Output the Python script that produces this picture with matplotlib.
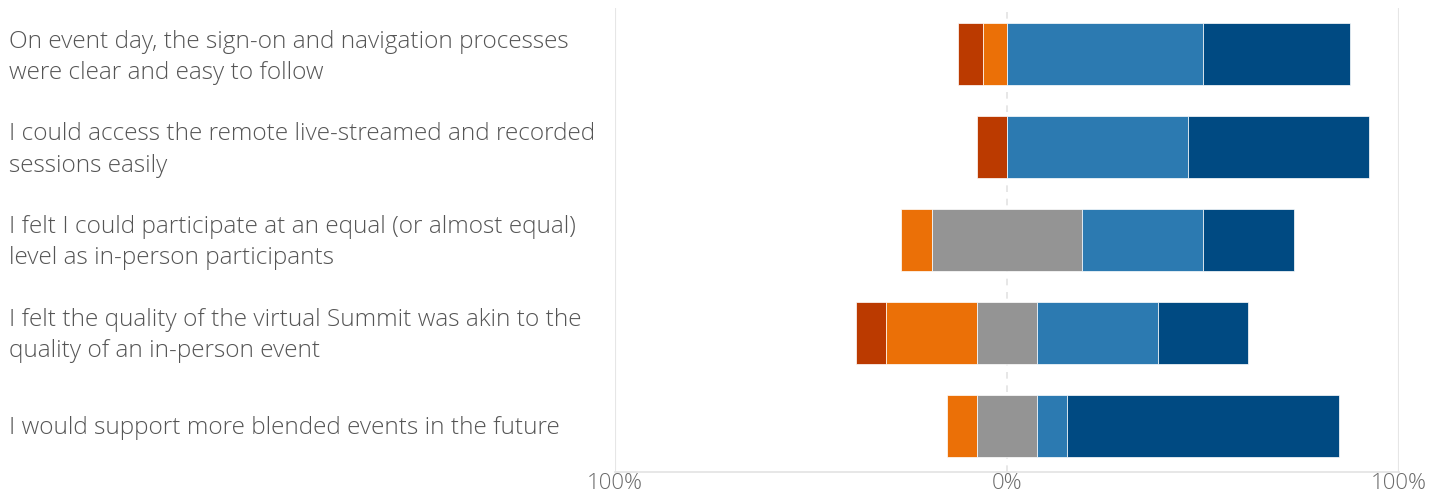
import numpy as np
import matplotlib.pyplot as plt
import matplotlib.transforms as mtransforms

questions = [
    "On event day, the sign-on and navigation processes\nwere clear and easy to follow",
    "I could access the remote live-streamed and recorded\nsessions easily",
    "I felt I could participate at an equal (or almost equal)\nlevel as in-person participants",
    "I felt the quality of the virtual Summit was akin to the\nquality of an in-person event",
    "I would support more blended events in the future",
]

# percentages per response level
strongly_disagree = [6.25, 7.7, 0.0, 7.7, 0.0]
disagree = [6.25, 0.0, 7.7, 23.1, 7.7]
neutral = [0.0, 0.0, 38.5, 15.4, 15.4]
agree = [50.0, 46.2, 30.8, 30.8, 7.7]
strongly_agree = [37.5, 46.2, 23.1, 23.1, 69.2]

xticks = [-100, 0, 100]
xtick_labels = ["100%", "0%", "100%"]

COLORS = ["#BB3A00", "#EB7007", "#949494", "#2C7AB1", "#004A82"]
TEXT = "#555555"

plt.rcParams["font.family"] = ["Open Sans", "DejaVu Sans"]

fig = plt.figure(figsize=(14.42, 4.94), dpi=100)
ax = fig.add_axes([615 / 1442, 1 - 472 / 494, (1399 - 615) / 1442, (472 - 8) / 494])

sd = np.array(strongly_disagree)
d = np.array(disagree)
n = np.array(neutral)
a = np.array(agree)
sa = np.array(strongly_agree)
y = np.arange(len(questions))

# neutral is split evenly around zero
left_start = -(sd + d + n / 2)
segments = [sd, d, n, a, sa]
h = 2 / 3
cur = left_start.copy()
for seg, c in zip(segments, COLORS):
    ax.barh(y, seg, left=cur, height=h, color=c, edgecolor="#ffffff", linewidth=0.5, zorder=3)
    cur = cur + seg

ax.set_xlim(-100, 100)
ax.set_ylim(len(questions) - 0.5, -0.5)

ax.axvline(0, color="#e3e3e3", linestyle=(0, (4, 4)), linewidth=1.2, zorder=1)
ax.axvline(-100, color="#e6e6e6", linewidth=1.5, zorder=1)
ax.axvline(100, color="#e6e6e6", linewidth=1.5, zorder=1)

for side in ["top", "right", "left"]:
    ax.spines[side].set_visible(False)
ax.spines["bottom"].set_color("#e3e3e3")
ax.spines["bottom"].set_linewidth(1.2)

ax.set_yticks([])
ax.set_xticks(xticks)
ax.set_xticklabels(xtick_labels, fontsize=16, color="#6a6a6a", fontweight="light")
ax.tick_params(axis="x", length=0, pad=1)

trans = mtransforms.blended_transform_factory(fig.transFigure, ax.transData)
for yi, q in zip(y, questions):
    ax.text(9 / 1442, yi + 0.03, q, transform=trans, ha="left", va="center",
            fontsize=17.6, color=TEXT, linespacing=1.4, fontweight="light")

fig.savefig("out.png", dpi=100)
